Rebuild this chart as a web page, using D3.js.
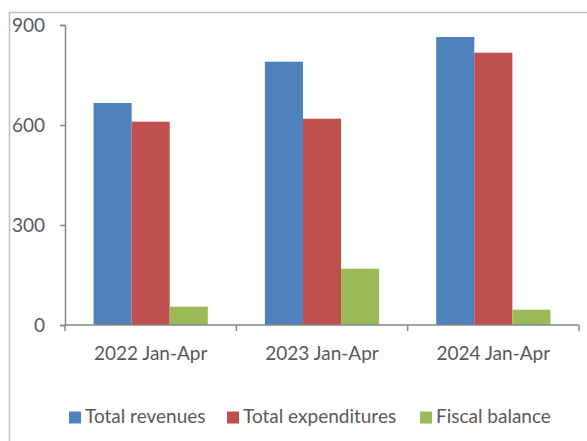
<!DOCTYPE html>
<html>
<head>
<meta charset="utf-8">
<script src="https://cdn.jsdelivr.net/npm/d3@7"></script>
<style>
  body { margin: 0; background: #fff; }
  text { font-family: Lato, "Open Sans", sans-serif; fill: #595959; }
</style>
</head>
<body>
<script>
// values
var periods = ["2022 Jan-Apr", "2023 Jan-Apr", "2024 Jan-Apr"];
var seriesNames = ["Total revenues", "Total expenditures", "Fiscal balance"];
var revenues = [666, 790, 864];
var expenditures = [610, 619, 817];
var balance = [55, 169, 46];
var yTicks = [0, 300, 600, 900];
var colors = ["#4f81bd", "#c0504d", "#9bbb59"];

var W = 587, H = 441;
var x0 = 65, x1 = 579, yTop = 25, yBot = 325;

var svg = d3.select("body").append("svg").attr("width", W).attr("height", H);

// chart frame (runs off the right and bottom edge like the source)
svg.append("rect").attr("x", 9.5).attr("y", 12.5).attr("width", 700).attr("height", 600)
  .attr("fill", "none").attr("stroke", "#bfbfbf").attr("stroke-width", 1.5);

var x = d3.scaleBand().domain(periods).range([x0, x1]).paddingInner(0).paddingOuter(0);
var xs = d3.scaleBand().domain(seriesNames).range([x.bandwidth() / 6, x.bandwidth() * 5 / 6]);
var y = d3.scaleLinear().domain([0, 900]).range([yBot, yTop]);

var allSeries = [revenues, expenditures, balance];
var rows = [];
periods.forEach(function(p, i) {
  seriesNames.forEach(function(s, j) {
    rows.push({period: p, series: s, value: allSeries[j][i], color: colors[j]});
  });
});

svg.append("g").selectAll("rect").data(rows).enter().append("rect")
  .attr("x", function(d) { return x(d.period) + xs(d.series); })
  .attr("width", xs.bandwidth())
  .attr("y", function(d) { return y(d.value); })
  .attr("height", function(d) { return yBot - y(d.value); })
  .attr("fill", function(d) { return d.color; });

// y axis
var ya = svg.append("g").attr("transform", "translate(" + x0 + ",0)")
  .call(d3.axisLeft(y).tickValues(yTicks).tickSize(5).tickPadding(15));
ya.select(".domain").attr("stroke", "#868686").attr("stroke-width", 1.5);
ya.selectAll(".tick line").attr("stroke", "#868686").attr("stroke-width", 1.5);
ya.selectAll(".tick text").style("font-size", "19px").attr("font-family", null).attr("fill", "#595959");

// x axis: ticks at category boundaries
svg.append("line").attr("x1", x0).attr("x2", x1).attr("y1", yBot).attr("y2", yBot)
  .attr("stroke", "#868686").attr("stroke-width", 1.5);
var bounds = periods.map(function(p) { return x(p); }).concat([x1]);
svg.append("g").selectAll("line").data(bounds).enter().append("line")
  .attr("x1", function(d) { return d; }).attr("x2", function(d) { return d; })
  .attr("y1", yBot).attr("y2", yBot + 6)
  .attr("stroke", "#868686").attr("stroke-width", 1.5);
svg.append("g").selectAll("text").data(periods).enter().append("text")
  .attr("x", function(d) { return x(d) + x.bandwidth() / 2; })
  .attr("y", 360).attr("text-anchor", "middle").style("font-size", "19px")
  .text(function(d) { return d; });

// legend
var legendX = [69, 227, 420];
var lg = svg.append("g").selectAll("g").data(seriesNames).enter().append("g")
  .attr("transform", function(d, i) { return "translate(" + legendX[i] + ",411.5)"; });
lg.append("rect").attr("width", 12).attr("height", 12).attr("fill", function(d, i) { return colors[i]; });
lg.append("text").attr("x", 16).attr("y", 11.5).style("font-size", "19px").text(function(d) { return d; });
</script>
</body>
</html>
